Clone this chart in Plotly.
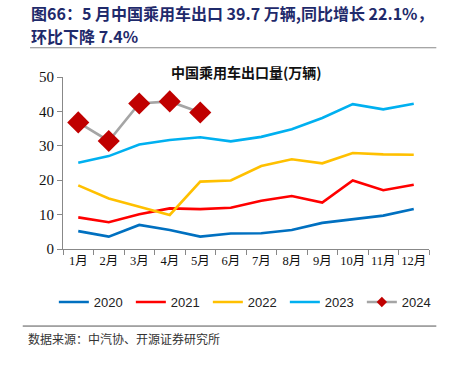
import plotly.graph_objects as go

months = ["1月", "2月", "3月", "4月", "5月", "6月", "7月", "8月", "9月", "10月", "11月", "12月"]
y2020 = [5.2, 3.6, 7.0, 5.5, 3.6, 4.5, 4.6, 5.5, 7.6, 8.6, 9.7, 11.6]
y2021 = [9.2, 7.8, 10.1, 11.8, 11.6, 12.0, 14.0, 15.4, 13.5, 19.9, 17.1, 18.7]
y2022 = [18.5, 14.7, 12.3, 9.9, 19.6, 19.9, 24.1, 26.1, 24.9, 27.9, 27.5, 27.4]
y2023 = [25.1, 27.0, 30.4, 31.7, 32.5, 31.3, 32.6, 34.8, 38.1, 42.1, 40.6, 42.2]
y2024 = [36.8, 31.4, 42.3, 42.9, 39.7]
months2024 = months[:5]

fig = go.Figure()
series = [("2020", y2020, "#0070C0"), ("2021", y2021, "#FF0000"),
          ("2022", y2022, "#FFC000"), ("2023", y2023, "#00B0F0")]
for name, ys, col in series:
    fig.add_trace(go.Scatter(x=months, y=ys, name=name, mode="lines",
                             line=dict(color=col, width=2.6)))
fig.add_trace(go.Scatter(x=months2024, y=y2024, name="2024", mode="lines+markers",
                         showlegend=False,
                         line=dict(color="#A5A5A5", width=2.6),
                         marker=dict(symbol="diamond", size=17, color="#C00000")))
# legend stub for 2024 with a small marker
fig.add_trace(go.Scatter(x=[None], y=[None], name="2024", mode="lines+markers",
                         line=dict(color="#A5A5A5", width=2.6),
                         marker=dict(symbol="diamond", size=8, color="#C00000")))

fig.update_layout(
    width=449, height=365,
    margin=dict(l=63, r=20, t=77, b=116, autoexpand=False),
    paper_bgcolor="white", plot_bgcolor="white",
    showlegend=True,
    legend=dict(orientation="h", x=-0.025, xanchor="left", y=-0.308, yanchor="middle",
                font=dict(family="Liberation Sans, Arial", size=13, color="#222"),
                entrywidth=32, entrywidthmode="pixels", itemwidth=30,
                tracegroupgap=0, traceorder="normal"),
    xaxis=dict(type="category", showgrid=False, showline=True, linecolor="#888", linewidth=1,
               ticks="outside", ticklen=5, tickcolor="#888", tickson="boundaries",
               tickangle=0, automargin=False,
               tickfont=dict(family="Liberation Serif, Noto Sans CJK SC", size=12.5, color="#111"),
               range=[-0.5, 11.5]),
    yaxis=dict(range=[0, 50], dtick=10, showgrid=False, showline=True, linecolor="#888",
               linewidth=1, ticks="outside", ticklen=5, tickcolor="#888", zeroline=False,
               automargin=False,
               tickfont=dict(family="Liberation Serif", size=15, color="#111")),
    font=dict(family="Noto Sans CJK SC"),
)

fig.add_annotation(xref="paper", yref="paper", x=0.5, y=1.029, xanchor="center", yanchor="middle",
                   text="<b>中国乘用车出口量(万辆)</b>", showarrow=False,
                   font=dict(family="Noto Sans CJK SC", size=14, color="#111"))
fig.add_annotation(xref="paper", yref="paper", x=-0.092, y=1.0, xanchor="left", yanchor="top",
                   text="<b>图66：5 月中国乘用车出口 39.7 万辆,同比增长 22.1%，</b>",
                   showarrow=False, yshift=78,
                   font=dict(family="Noto Sans CJK SC", size=16, color="#1F2A6B"))
fig.add_annotation(xref="paper", yref="paper", x=-0.092, y=1.0, xanchor="left", yanchor="top",
                   text="<b>环比下降 7.4%</b>",
                   showarrow=False, yshift=55,
                   font=dict(family="Noto Sans CJK SC", size=16, color="#1F2A6B"))
fig.add_annotation(xref="paper", yref="paper", x=-0.1, y=-0.52, xanchor="left", yanchor="middle",
                   text="数据来源：中汽协、开源证券研究所", showarrow=False,
                   font=dict(family="Noto Sans CJK SC", size=12, color="#333"))
# separator lines (paper coordinates)
fig.add_shape(type="line", xref="paper", yref="paper", x0=-0.09, x1=1.02, y0=1.17, y1=1.17,
              line=dict(color="#888", width=1))
fig.add_shape(type="line", xref="paper", yref="paper", x0=-0.11, x1=1.02, y0=-0.448, y1=-0.448,
              line=dict(color="#555", width=1))

fig.write_html("out.html", config={"displayModeBar": False},
               post_script="document.body.style.margin='0';")
